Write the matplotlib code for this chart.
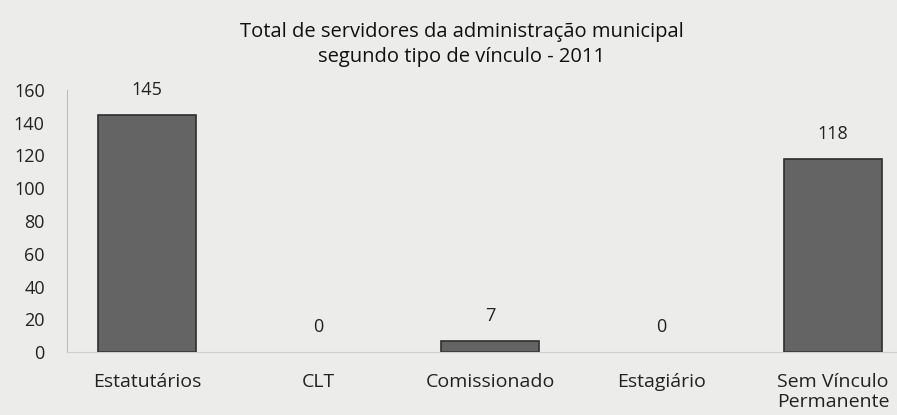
import matplotlib.pyplot as plt
import numpy as np

categories = ['Estatutários', 'CLT', 'Comissionado', 'Estagiário', 'Sem Vínculo\nPermanente']
values = [145, 0, 7, 0, 118]
yticks = [0, 20, 40, 60, 80, 100, 120, 140, 160]

plt.rcParams['font.family'] = ['Open Sans', 'DejaVu Sans']

fig = plt.figure(figsize=(8.97, 4.15), dpi=100)
fig.patch.set_facecolor('#ececea')
ax = fig.add_axes([67 / 897, 63 / 415, 1 - 67 / 897, (352 - 90) / 415])
ax.set_facecolor('#ececea')

x = np.arange(len(categories))
# no outline on the empty bars
edge_w = [1.2 if v > 0 else 0 for v in values]
ax.bar(x, values, width=0.57, color='#646464', edgecolor='#2e2e2e', linewidth=edge_w)

for xi, v in zip(x, values):
    ax.annotate(str(v), (xi, v), xytext=(0, 18), textcoords='offset points',
                ha='center', va='center', fontsize=13, color='#222222')

ax.set_xlim(-0.466, 4.373)
ax.set_ylim(0, 160)
ax.set_yticks(yticks)
ax.set_xticks(x)
ax.set_xticklabels(categories, fontsize=14, color='#222222', linespacing=1.15)
ax.tick_params(axis='y', length=0, labelsize=13, colors='#222222', pad=16)
ax.tick_params(axis='x', length=0, pad=15)

for s in ['top', 'right']:
    ax.spines[s].set_visible(False)
ax.spines['left'].set_color('#bdbdbd')
ax.spines['left'].set_linewidth(0.8)
ax.spines['bottom'].set_color('#cfcfcf')
ax.spines['bottom'].set_linewidth(0.8)

fig.text(0.515, 0.893, 'Total de servidores da administração municipal\nsegundo tipo de vínculo - 2011',
         ha='center', va='center', fontsize=14.5, color='#111111', linespacing=1.35)

plt.savefig('out.png', dpi=100, facecolor=fig.get_facecolor())
